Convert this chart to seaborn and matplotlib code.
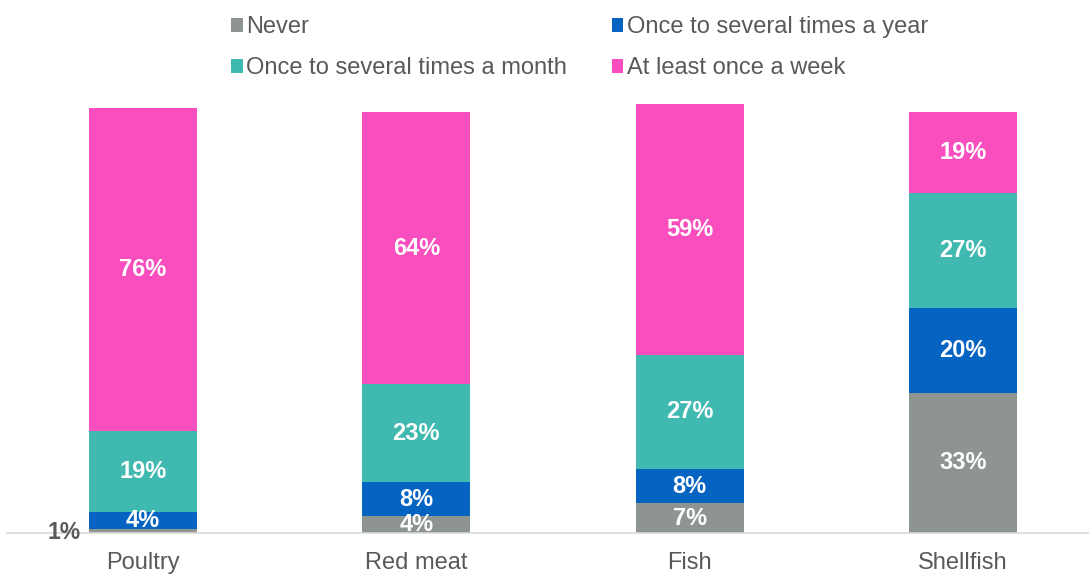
import numpy as np
import pandas as pd
import matplotlib
matplotlib.use("Agg")
import matplotlib.pyplot as plt
import seaborn as sns
from matplotlib.patches import Patch

categories = ["Poultry", "Red meat", "Fish", "Shellfish"]
series = ["Never", "Once to several times a year",
          "Once to several times a month", "At least once a week"]
never = [1, 4, 7, 33]
yearly = [4, 8, 8, 20]
monthly = [19, 23, 27, 27]
weekly = [76, 64, 59, 19]
colors = ["#8E9591", "#0563C1", "#40BAB0", "#F94FBE"]

sns.set_theme(style="white")
plt.rcParams["font.family"] = ["Liberation Sans", "DejaVu Sans"]

fig = plt.figure(figsize=(10.89, 5.75), dpi=100)
ax = fig.add_axes([7/1089, 42/575, 1 - 7/1089, 433/575])

vals = np.array([never, yearly, monthly, weekly], dtype=float)
cum = np.cumsum(vals, axis=0)

for i in range(len(series) - 1, -1, -1):
    df = pd.DataFrame({"cat": categories, "v": cum[i]})
    sns.barplot(data=df, x="cat", y="v", color=colors[i], width=0.395,
                saturation=1, ax=ax, errorbar=None, linewidth=0)

bottoms = cum - vals
for i in range(len(series)):
    for j in range(len(categories)):
        v = vals[i, j]
        if v < 2:
            ax.text(j - 0.23, 0.2, f"{int(v)}%", ha="right", va="center",
                    color="#595959", fontsize=16.5, fontweight="bold")
        else:
            ax.text(j, bottoms[i, j] + v / 2, f"{int(v)}%", ha="center",
                    va="center", color="white", fontsize=17, fontweight="bold")

ax.set_xlim(-0.4976, 3.461)
ax.set_ylim(0, 101.9)
ax.set_xlabel("")
ax.set_ylabel("")
ax.set_yticks([])
ax.tick_params(axis="x", length=0, labelsize=17, labelcolor="#595959", pad=14)
for s in ["top", "right", "left"]:
    ax.spines[s].set_visible(False)
ax.spines["bottom"].set_color("#D9D9D9")
ax.spines["bottom"].set_linewidth(1.2)

handles = [Patch(facecolor=c, edgecolor="none") for c in colors]
order = [0, 2, 1, 3]
fig.legend([handles[k] for k in order], [series[k] for k in order],
           ncol=2, loc="upper left", bbox_to_anchor=(217/1089, 0.996),
           frameon=False, fontsize=17, labelcolor="#595959",
           handlelength=0.48, handleheight=0.48, handletextpad=0.15,
           columnspacing=1.9, labelspacing=0.8, borderaxespad=0.2)

fig.savefig("out.png", dpi=100)
